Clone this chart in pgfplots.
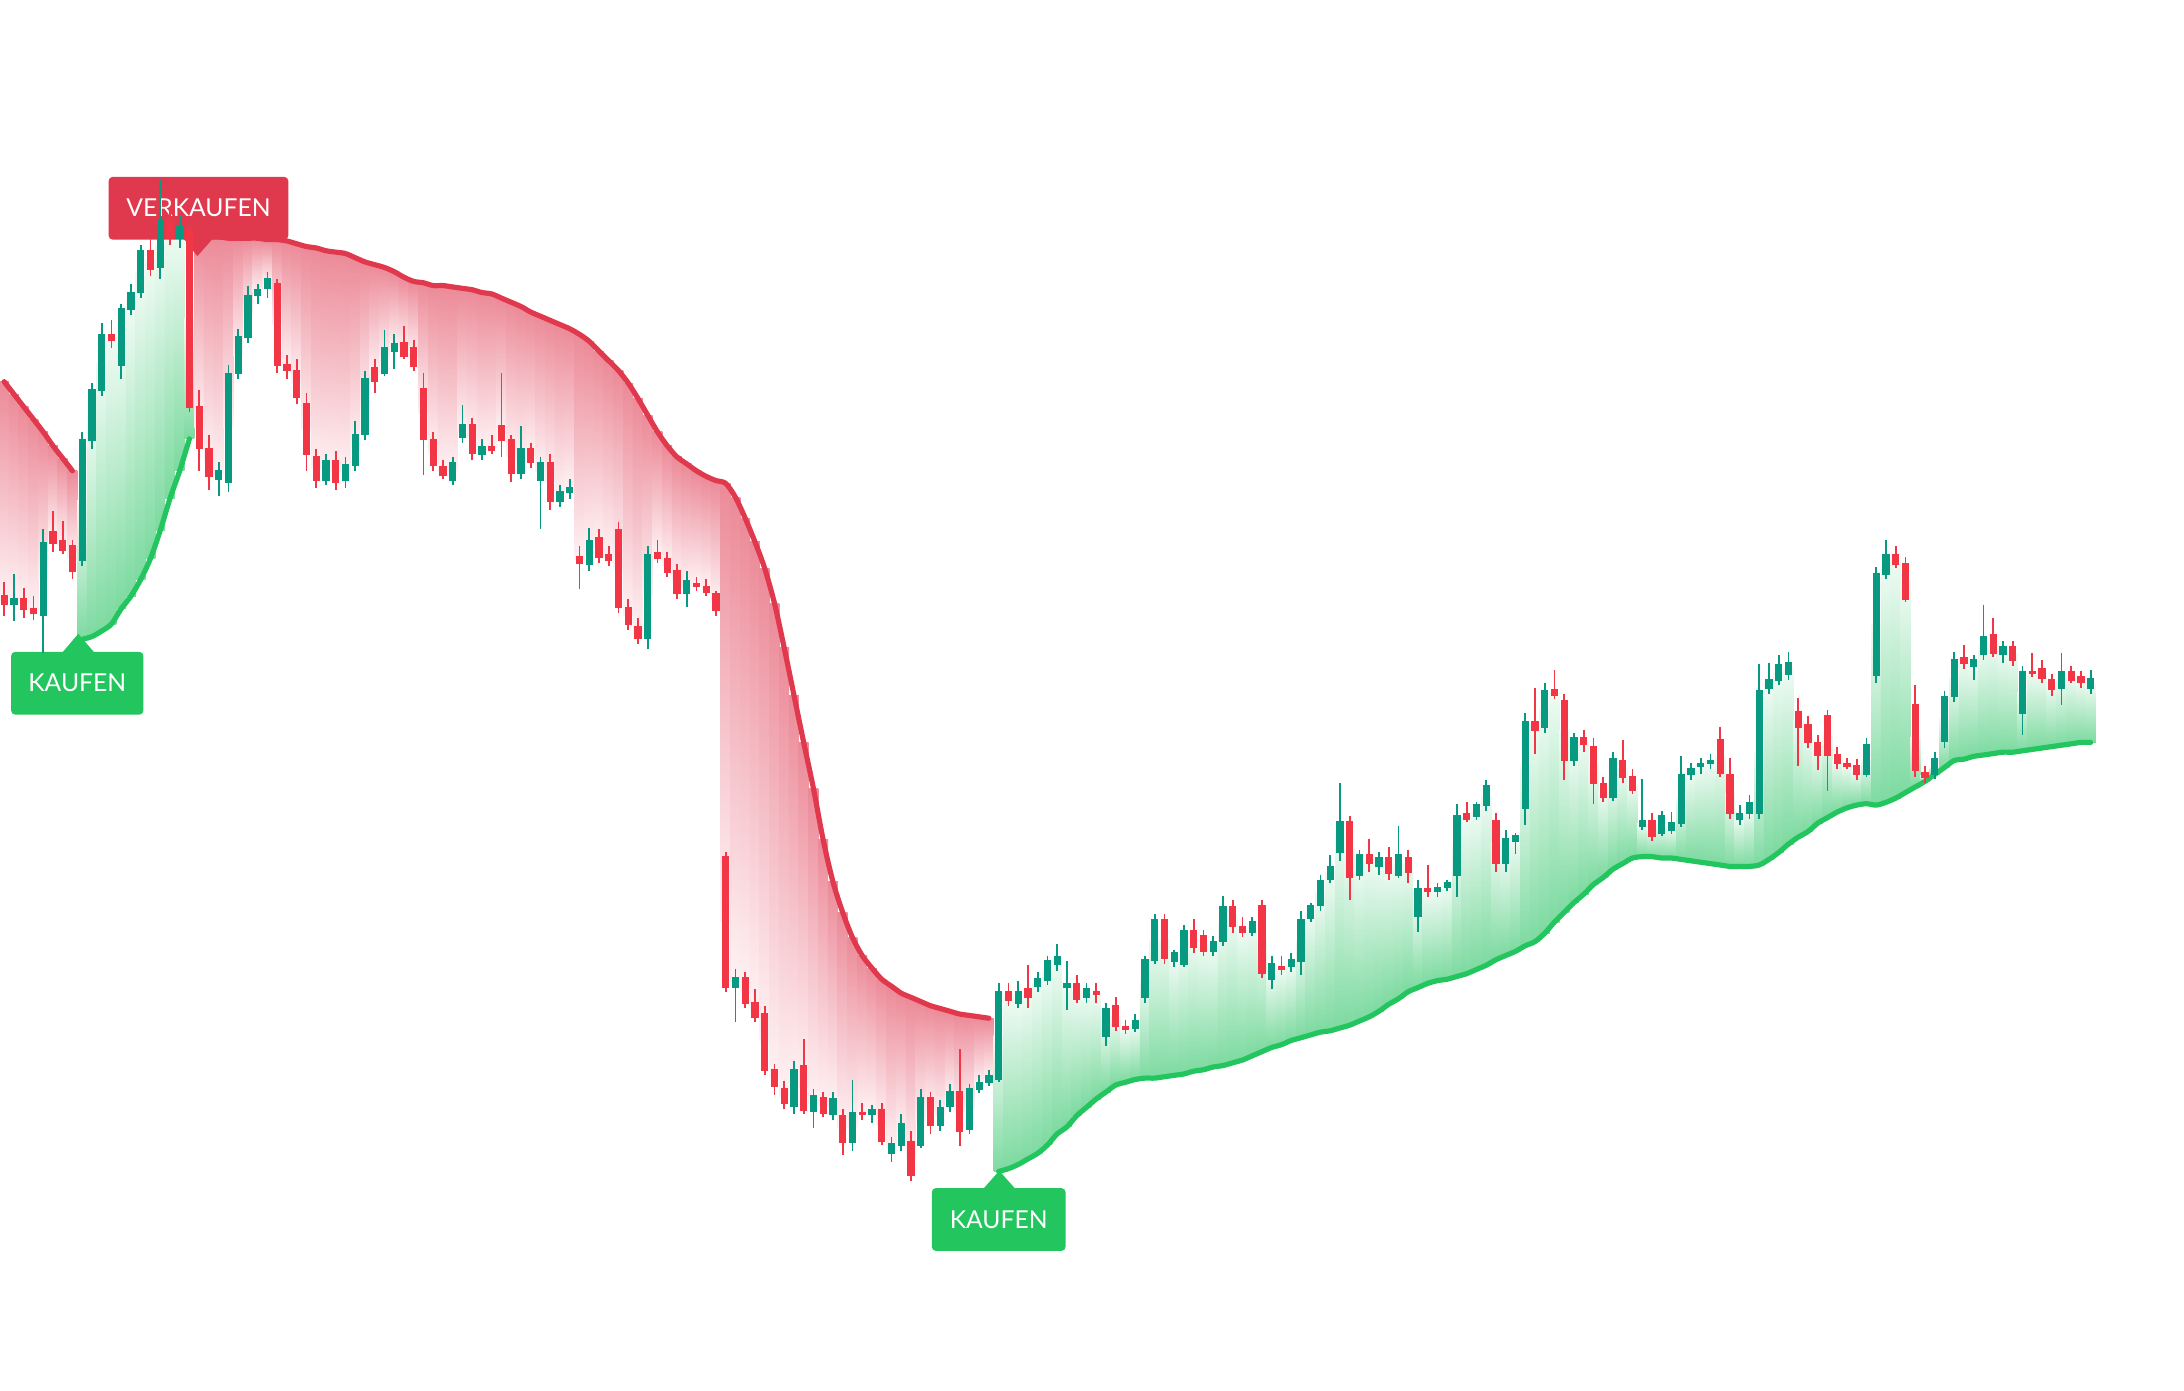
\documentclass[border=0pt]{standalone}
\usepackage{pgfplots}
\pgfplotsset{compat=1.18}
\usepackage{pgfplotstable}
\usepackage{fontspec}
\newfontfamily\labfont{Lato}

\definecolor{cgreen}{RGB}{8,153,129}
\definecolor{cred}{RGB}{242,54,69}
\definecolor{lred}{RGB}{224,56,76}
\definecolor{lgreen}{RGB}{34,197,94}
\definecolor{rfA}{RGB}{236,138,152}
\definecolor{rfB}{RGB}{254,242,244}
\definecolor{gfA}{RGB}{125,218,160}
\definecolor{gfB}{RGB}{240,251,244}

\pgfdeclareplotmark{emptymark}{}

% turn a value from the survey into a plain fixed number
\newcommand\tofixed[2]{%
  \pgfkeys{/pgf/fpu=true,/pgf/fpu/output format=fixed}%
  \pgfmathparse{#2}\let#1\pgfmathresult
  \pgfkeys{/pgf/fpu=false}}

% candles in screen units: o h l c, s = trailing stop line
\pgfplotstableread{
o h l c s
428 418 442 434 274
434 412 446 430 283
430 422 444 437 292
437 428 445 440 301
442 380 469 390 310
382 367 396 390 320
388 374 398 395 329
392 388 416 410 338
402 310 406 316 459
316 275 322 280 457
280 232 284 240 453
240 230 250 244 448
262 218 272 222 437
222 204 226 210 428
210 176 214 180 416
180 170 198 193 401
192 129 200 158 381
160 150 176 170 358
171 155 178 163 338
165 160 296 292 315
292 280 338 322 170
322 312 352 342 170
344 332 356 338 170
346 262 353 268 171
268 236 272 242 171
242 205 246 212 171
212 204 218 208 171
207 195 214 200 172
204 200 268 262 172
262 255 272 266 173
266 258 290 285 175
290 282 338 326 177
328 322 350 345 178
345 326 348 331 180
331 324 352 346 181
345 328 350 334 182
334 302 338 312 185
312 266 316 272 188
264 258 282 274 190
268 237 270 250 192
252 240 265 247 195
246 234 258 256 199
250 244 266 263 202
279 268 341 315 203
316 310 338 334 205
335 330 344 341 205
345 328 348 332 206
314 291 318 305 207
305 300 330 325 208
326 315 330 321 210
321 312 326 323 211
306 268 328 316 214
316 312 346 340 217
340 306 344 322 220
322 318 336 332 224
345 328 380 332 227
332 326 366 360 230
360 348 364 353 233
353 344 358 350 236
400 392 423 404 240
405 379 410 388 245
386 380 404 400 252
398 392 406 402 259
380 375 440 436 266
436 430 452 448 275
450 444 462 458 286
458 392 466 398 298
397 388 404 401 310
401 396 414 411 320
410 405 430 426 328
426 410 436 417 333
419 414 424 421 338
421 416 428 425 342
426 424 442 438 345
615 612 712 709 347
709 696 734 702 357
702 698 724 720 372
720 710 734 730 389
728 722 772 768 408
768 764 786 780 433
782 776 796 792 465
794 762 800 768 499
765 746 800 797 533
798 782 810 787 566
788 784 802 799 603
800 784 804 789 633
801 796 829 820 655
820 775 826 799 673
799 792 804 800 686
800 793 806 797 695
797 792 822 819 703
828 816 834 821 708
822 800 826 807 713
820 812 848 844 716
822 782 824 788 719
788 784 814 808 722
808 790 812 795 724
794 778 798 784 726
784 753 823 812 728
811 778 814 782 729
782 772 785 777 730
777 768 780 772 731
775 706 777 712 841
712 706 722 718 839
720 704 724 712 836
710 693 724 716 832
708 698 712 703 828
704 686 707 690 822
692 678 697 687 814
709 690 725 706 809
706 700 720 717 801
716 706 720 710 795
712 706 720 714 789
744 720 751 724 784
722 716 740 737 779
737 732 742 739 777
738 728 741 733 775
716 686 720 689 774
689 656 692 660 774
660 656 692 688 773
690 682 694 684 772
692 664 694 668 771
668 660 684 680 769
672 668 686 683 768
683 672 686 676 766
676 643 679 651 765
651 646 670 665 763
665 658 673 669 761
669 658 672 662 758
650 646 702 699 755
703 686 710 692 752
694 686 700 696 750
694 684 698 689 747
690 654 700 660 745
659 648 662 650 743
650 628 654 632 741
631 614 634 622 740
612 562 618 590 738
590 586 646 630 736
628 610 632 614 733
614 602 626 620 730
622 612 628 616 726
616 608 632 627 721
628 593 630 614 717
616 610 634 626 712
658 632 669 638 709
638 621 644 640 706
640 634 644 637 704
637 632 640 634 703
628 577 644 586 701
584 576 590 588 699
586 576 589 578 696
578 560 582 564 693
589 584 626 620 689
620 596 626 602 686
604 598 613 600 683
580 512 592 518 679
518 494 541 524 676
522 490 526 496 670
495 481 502 499 662
503 498 560 546 655
546 526 550 530 648
530 524 540 534 642
536 530 577 562 635
563 558 576 572 630
572 540 575 545 624
546 531 562 558 620
558 552 570 567 616
593 559 596 589 615
589 584 604 600 615
598 582 600 586 616
596 583 599 591 616
591 543 594 556 617
556 548 560 552 618
550 544 556 548 619
548 541 552 546 620
531 522 558 555 621
556 544 588 584 622
588 578 592 584 622
584 571 588 576 622
584 477 588 496 621
494 476 498 488 617
488 470 492 477 612
484 468 488 476 606
511 501 550 522 601
520 514 537 533 597
533 528 553 542 591
514 510 568 542 587
542 536 552 548 583
548 544 552 550 580
550 545 560 556 578
556 530 558 535 577
485 407 490 412 578
412 388 416 398 576
398 392 408 405 573
405 400 432 430 569
506 492 558 553 565
555 550 562 558 561
556 540 559 545 556
532 496 537 500 551
500 468 504 474 546
472 463 480 476 545
478 470 488 474 543
470 434 474 457 542
456 444 472 469 541
470 460 476 464 540
464 460 478 474 540
512 478 528 482 539
482 469 486 483 538
480 474 490 487 537
488 484 500 495 536
494 469 506 482 535
482 478 490 488 534
486 482 494 490 533
494 481 498 487 533
}\data

\begin{document}
\begin{tikzpicture}
\begin{axis}[
  x=0.35pt, y=0.35pt, y dir=reverse,
  xmin=0, xmax=1568, ymin=0, ymax=998.5,
  hide axis, clip marker paths=true,
]
\path (rel axis cs:0,0) rectangle (rel axis cs:1,1);

% gradient columns between the stop line and the price
\addplot[scatter, only marks, mark=emptymark,
  visualization depends on={((\thisrow{o}+\thisrow{c})/2-\thisrow{s})*0.35 \as \fillraw},
  scatter/@pre marker code/.code={%
    \scope
    \tofixed\fillH{\fillraw}%
    \ifdim\fillH pt>0pt
      \path[draw=none, top color=rfA, bottom color=rfB] (-1.27pt,0pt) rectangle (1.27pt,\fillH pt);
    \else
      \path[draw=none, top color=gfB, bottom color=gfA] (-1.27pt,0pt) rectangle (1.27pt,\fillH pt);
    \fi
  },
  scatter/@post marker code/.code={\endscope},
] table[x expr=3+7*\coordindex, y expr=(\thisrow{o}+\thisrow{c})/2] {\data};

% stop line
\addplot[lred, smooth, line width=1.3pt, line cap=round, line join=round, restrict x to domain=0:55]
  table[x expr=3+7*\coordindex, y=s] {\data};
\addplot[lgreen, smooth, line width=1.3pt, line cap=round, line join=round, restrict x to domain=56:137]
  table[x expr=3+7*\coordindex, y=s] {\data};
\addplot[lred, smooth, line width=1.3pt, line cap=round, line join=round, restrict x to domain=140:712]
  table[x expr=3+7*\coordindex, y=s] {\data};
\addplot[lgreen, smooth, line width=1.3pt, line cap=round, line join=round, restrict x to domain=714:1510]
  table[x expr=3+7*\coordindex, y=s] {\data};

% signal labels
\fill[lred] (axis cs:131.6,171) -- (axis cs:141.7,183.9) -- (axis cs:153,171) -- cycle;
\node[fill=lred, text=white, rounded corners=1pt, minimum width=45.15pt, minimum height=15.75pt,
  inner sep=0pt, font=\labfont\fontsize{6.2}{7}\selectfont] at (axis cs:142.5,149.5) {VERKAUFEN};
\fill[lgreen] (axis cs:44.3,469) -- (axis cs:56.2,455) -- (axis cs:68.2,469) -- cycle;
\node[fill=lgreen, text=white, rounded corners=1pt, minimum width=33.25pt, minimum height=15.75pt,
  inner sep=0pt, font=\labfont\fontsize{6.2}{7}\selectfont] at (axis cs:55.5,490.5) {KAUFEN};
\fill[lgreen] (axis cs:705.5,854) -- (axis cs:717.4,840.5) -- (axis cs:729.4,854) -- cycle;
\node[fill=lgreen, text=white, rounded corners=1pt, minimum width=33.6pt, minimum height=15.75pt,
  inner sep=0pt, font=\labfont\fontsize{6.2}{7}\selectfont] at (axis cs:717,875.5) {KAUFEN};

% candles
\addplot[scatter, only marks, mark=emptymark,
  visualization depends on={(\thisrow{o}-\thisrow{h})*0.35 \as \rawH},
  visualization depends on={(\thisrow{o}-\thisrow{l})*0.35 \as \rawL},
  visualization depends on={(\thisrow{o}-\thisrow{c})*0.35 \as \rawC},
  scatter/@pre marker code/.code={%
    \scope
    \tofixed\offH{\rawH}\tofixed\offL{\rawL}\tofixed\offC{\rawC}%
    \ifdim\offC pt>0pt \def\candcol{cgreen}\else\def\candcol{cred}\fi
    \draw[\candcol, line width=0.42pt] (0pt,\offH pt) -- (0pt,\offL pt);
    \fill[\candcol] (-0.72pt,0pt) rectangle (0.72pt,\offC pt);
    \draw[\candcol, line width=0.35pt] (-0.72pt,0pt) -- (0.72pt,0pt);
  },
  scatter/@post marker code/.code={\endscope},
] table[x expr=3+7*\coordindex, y=o] {\data};
\end{axis}
\end{tikzpicture}
\end{document}
